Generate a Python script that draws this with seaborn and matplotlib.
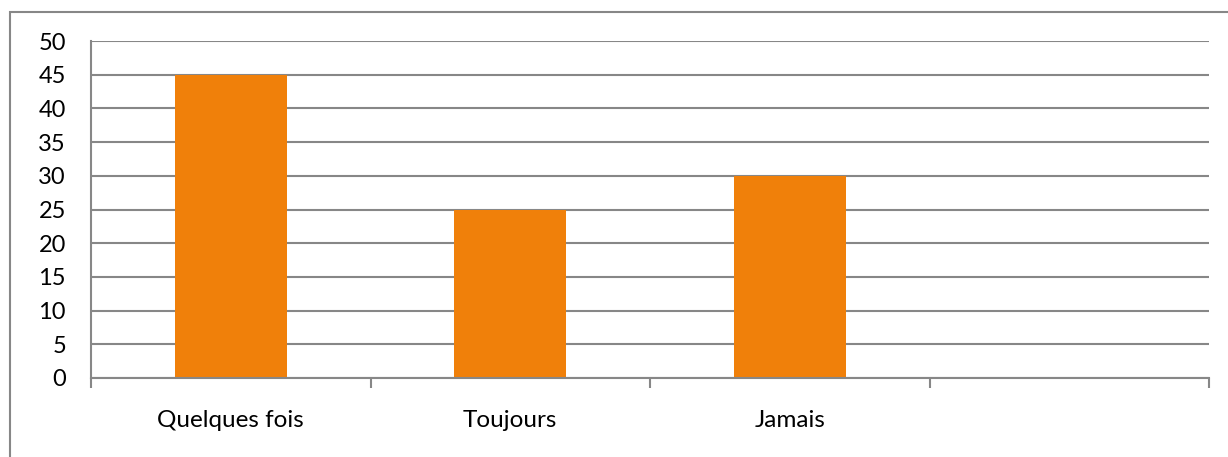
import matplotlib
matplotlib.use("Agg")
import matplotlib.pyplot as plt
import seaborn as sns
import numpy as np
import pandas as pd
from matplotlib.patches import Rectangle
from matplotlib.ticker import FixedLocator

categories = ["Quelques fois", "Toujours", "Jamais", ""]
values = [45, 25, 30, np.nan]
yticks = [0, 5, 10, 15, 20, 25, 30, 35, 40, 45, 50]

sns.set_theme(style="white")
plt.rcParams['font.family'] = ['Lato', 'DejaVu Sans']

df = pd.DataFrame({"cat": categories, "val": values})

fig = plt.figure(figsize=(12.28, 4.57), dpi=100)
ax = fig.add_axes([91/1228, 1-378/457, (1209-91)/1228, (378-41)/457])

sns.barplot(data=df, x="cat", y="val", color="#F0800A", saturation=1,
            width=0.4, ax=ax, order=categories, linewidth=0)

gray = "#878787"
ax.set_ylim(0, 50)
ax.set_xlim(-0.5, 3.5)
ax.set_yticks(yticks)
ax.yaxis.grid(True, color=gray, linewidth=1.5)
ax.set_axisbelow(True)
ax.set_xlabel("")
ax.set_ylabel("")

for s in ["top", "right"]:
    ax.spines[s].set_visible(False)
for s in ["left", "bottom"]:
    ax.spines[s].set_color(gray)
    ax.spines[s].set_linewidth(1.5)

ax.tick_params(axis="y", which="major", length=8, width=1.5, color=gray,
               direction="out", pad=10, labelsize=17, labelcolor="black")
ax.tick_params(axis="x", which="major", length=0, pad=23, labelsize=17.5,
               labelcolor="black")
ax.xaxis.set_minor_locator(FixedLocator([-0.5, 0.5, 1.5, 2.5, 3.5]))
ax.tick_params(axis="x", which="minor", length=7, width=1.5, color=gray,
               direction="out", bottom=True)

# outer chart border (only left and top visible in the crop)
fig.patches.append(Rectangle((10/1228, -0.1), 1.2, (1-12/457)+0.1,
                             transform=fig.transFigure, fill=False,
                             edgecolor=gray, linewidth=1.5))

fig.savefig("out.png", dpi=100)
